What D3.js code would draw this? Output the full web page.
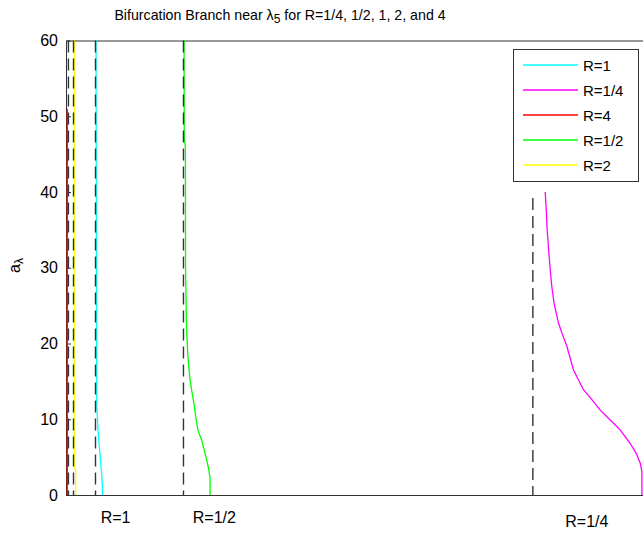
<!DOCTYPE html>
<html>
<head>
<meta charset="utf-8">
<script src="https://cdn.jsdelivr.net/npm/d3@7"></script>
<style>
  body { margin: 0; background: #fff; }
  svg { display: block; font-family: "Liberation Sans", Arial, sans-serif; }
</style>
</head>
<body>
<div id="figure"></div>
<script>
// legend order = plot order
const seriesNames = ["R=1", "R=1/4", "R=4", "R=1/2", "R=2"];
const seriesColors = ["#00ffff", "#ff00ff", "#ff0000", "#00ff00", "#ffff00"];

// branches as [lambda, a_lambda]
const branchR1 = [[5.2, 60], [5.3, 20], [5.32, 12], [5.46, 10], [5.60, 8], [5.81, 6], [5.98, 4.5], [6.15, 3], [6.29, 1.5], [6.33, 0]];
const branchR14 = [[83.02, 40], [83.19, 37.8], [83.36, 35], [83.59, 32.6], [83.88, 29.8], [84.18, 27.4], [84.58, 25.2],
  [85.32, 22.7], [85.91, 21.4], [86.78, 19.6], [87.92, 16.5], [89.65, 13.9], [91.11, 12.6], [92.55, 11.2],
  [94.28, 9.9], [96.01, 8.6], [97.75, 6.8], [98.79, 5.5], [99.48, 4.2], [99.77, 3.1], [99.77, 0]];
const branchR4 = [[0.22, 51], [0.22, 0]];
const branchR12 = [[20.45, 60], [20.49, 47], [20.68, 46], [20.71, 30], [20.88, 22], [21.14, 18], [21.49, 15.2],
  [21.84, 13.5], [22.18, 12], [22.53, 10], [22.88, 8.5], [23.48, 7.3], [23.92, 6], [24.38, 4.6], [24.70, 3.5],
  [24.96, 2.2], [24.96, 0]];
const branchR2 = [[1.44, 60], [1.44, 3.7], [1.68, 3.2], [1.68, 0]];
const branches = [branchR1, branchR14, branchR4, branchR12, branchR2];

// lambda_5 for each R (dashed), and how high the dashed line goes
const lambda5 = [5.11, 80.88, 0.42, 20.35, 1.30];
const lambda5Top = [60, 39.2, 60, 60, 60];

const yTicks = [0, 10, 20, 30, 40, 50, 60];

const noteText = ["R=1", "R=1/2", "R=1/4"];
const noteLambda = [6.0, 21.96, 86.5];
const noteA = [-3.7, -3.7, -4.2];

const W = 643, H = 533;
const plot = { left: 66, right: 649, top: 40.5, bottom: 495 };

const svg = d3.select("#figure").append("svg")
    .attr("width", W)
    .attr("height", H);

const x = d3.scaleLinear().domain([0, 101]).range([plot.left, plot.right]);
const y = d3.scaleLinear().domain([0, 60]).range([plot.bottom, plot.top]);

// title
const title = svg.append("text")
    .attr("x", 280)
    .attr("y", 19.5)
    .attr("text-anchor", "middle")
    .attr("font-size", 14.2)
    .attr("fill", "#000");
title.append("tspan").text("Bifurcation Branch near \u03bb");
title.append("tspan").attr("dy", 3).attr("font-size", 12).text("5");
title.append("tspan").attr("dy", -3).text(" for R=1/4, 1/2, 1, 2, and 4");

// y label
const ylab = svg.append("text")
    .attr("transform", "translate(20,273) rotate(-90)")
    .attr("font-size", 16)
    .attr("fill", "#000");
ylab.append("tspan").text("a");
ylab.append("tspan").attr("dy", 3).attr("font-size", 12).text("\u03bb");

// axes box
svg.append("g")
    .attr("transform", `translate(0,${plot.bottom})`)
    .call(d3.axisBottom(x).tickValues([]).tickSizeOuter(0));
svg.append("g")
    .attr("transform", `translate(0,${plot.top})`)
    .call(d3.axisTop(x).tickValues([]).tickSizeOuter(0));
svg.append("g")
    .attr("class", "yaxis")
    .attr("transform", `translate(${plot.left},0)`)
    .call(d3.axisLeft(y).tickValues(yTicks).tickSizeInner(-5).tickSizeOuter(0).tickPadding(8));
svg.append("g")
    .attr("transform", `translate(${plot.right},0)`)
    .call(d3.axisRight(y).tickValues(yTicks).tickSizeInner(-5).tickSizeOuter(0).tickFormat(""));

svg.selectAll(".domain, .tick line").attr("stroke", "#333");
svg.selectAll(".yaxis text")
    .attr("font-size", 16)
    .attr("font-family", "Liberation Sans, Arial, sans-serif")
    .attr("fill", "#000");

// branches
const line = d3.line().x(d => x(d[0])).y(d => y(d[1]));
svg.selectAll(".branch")
    .data(branches)
    .join("path")
    .attr("class", "branch")
    .attr("d", line)
    .attr("fill", "none")
    .attr("stroke", (d, i) => seriesColors[i])
    .attr("stroke-width", 1.3);

// lambda_5 markers
svg.selectAll(".lam5")
    .data(lambda5)
    .join("line")
    .attr("class", "lam5")
    .attr("x1", d => x(d))
    .attr("x2", d => x(d))
    .attr("y1", (d, i) => y(lambda5Top[i]))
    .attr("y2", y(0))
    .attr("stroke", "#333")
    .attr("stroke-width", 1.4)
    .attr("stroke-dasharray", "12,6");

// notes under the axis
svg.selectAll(".note")
    .data(noteText)
    .join("text")
    .attr("class", "note")
    .attr("x", (d, i) => x(noteLambda[i]))
    .attr("y", (d, i) => y(noteA[i]))
    .attr("font-size", 16)
    .attr("fill", "#000")
    .text(d => d);

// legend
const lg = svg.append("g").attr("transform", "translate(513,49)");
lg.append("rect")
    .attr("x", 0.5).attr("y", 0.5)
    .attr("width", 125).attr("height", 132)
    .attr("fill", "#fff")
    .attr("stroke", "#333");
const item = lg.selectAll(".item")
    .data(seriesNames)
    .join("g")
    .attr("class", "item")
    .attr("transform", (d, i) => `translate(0,${16 + i * 25})`);
item.append("line")
    .attr("x1", 10).attr("x2", 65)
    .attr("stroke", (d, i) => seriesColors[i])
    .attr("stroke-width", 1.3);
item.append("text")
    .attr("x", 70)
    .attr("y", 5.5)
    .attr("font-size", 15)
    .attr("fill", "#000")
    .text(d => d);
</script>
</body>
</html>
